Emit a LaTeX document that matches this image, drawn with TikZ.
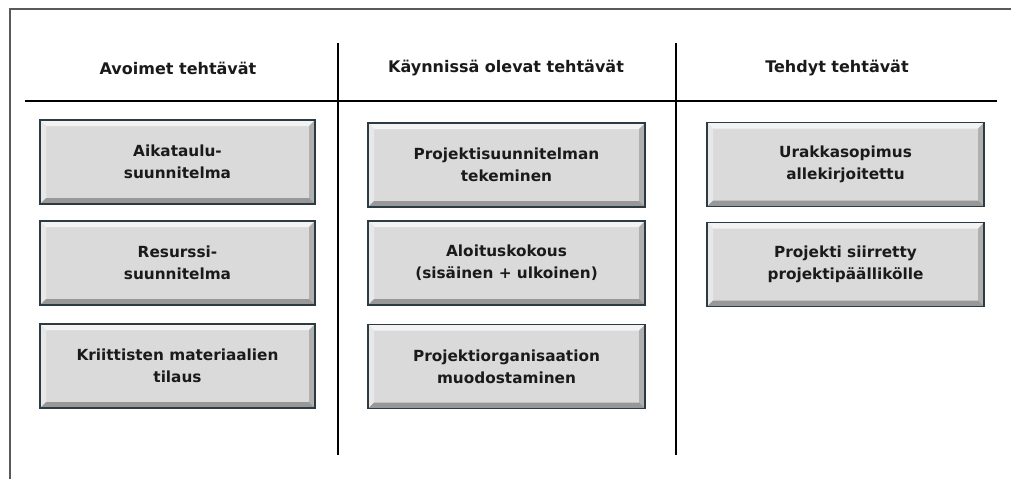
\documentclass[tikz,border=0pt]{standalone}
\usepackage{fontspec}
\setmainfont{DejaVu Sans}
\definecolor{boxgray}{HTML}{DADADA}
\definecolor{bevtop}{HTML}{F3F3F3}
\definecolor{bevleft}{HTML}{E8E8E8}
\definecolor{bevright}{HTML}{B0B0B0}
\definecolor{bevbottom}{HTML}{989898}
\definecolor{edge}{HTML}{2C3A44}
\definecolor{frame}{HTML}{5A5A5A}
\definecolor{ink}{HTML}{1A1A1A}
\tikzset{
  taskbox/.style={
    minimum width=277pt, minimum height=84pt, inner sep=0pt, align=center,
    text=ink, font=\bfseries\fontsize{15.3}{22}\selectfont,
    fill=boxgray, draw=edge, line width=1.3pt,
    path picture={
      \coordinate (nw) at (path picture bounding box.north west);
      \coordinate (ne) at (path picture bounding box.north east);
      \coordinate (sw) at (path picture bounding box.south west);
      \coordinate (se) at (path picture bounding box.south east);
      \fill[bevtop] (nw) -- (ne) -- ([shift={(-6pt,-6pt)}]ne) -- ([shift={(6pt,-6pt)}]nw) -- cycle;
      \fill[bevleft] (nw) -- (sw) -- ([shift={(6pt,6pt)}]sw) -- ([shift={(6pt,-6pt)}]nw) -- cycle;
      \fill[bevright] (ne) -- (se) -- ([shift={(-6pt,6pt)}]se) -- ([shift={(-6pt,-6pt)}]ne) -- cycle;
      \fill[bevbottom] (sw) -- (se) -- ([shift={(-6pt,6pt)}]se) -- ([shift={(6pt,6pt)}]sw) -- cycle;
    }},
  header/.style={text=ink, font=\bfseries\fontsize{16}{18}\selectfont},
  rule/.style={line width=2.6pt, black},
  framerule/.style={line width=2pt, frame}
}
\begin{document}
\begin{tikzpicture}[x=1pt,y=-1pt]
  \useasboundingbox (0,0) rectangle (1011,479);
  % outer frame (top and left edges)
  \coordinate (fbl) at (10,479);
  \coordinate (ftl) at (10,9);
  \coordinate (ftr) at (1011,9);
  \draw[framerule] (fbl) -- (ftl) -- (ftr);

  % column rules
  \coordinate (hl) at (25,101);
  \coordinate (hr) at (997,101);
  \coordinate (v1t) at (338,43);
  \coordinate (v1b) at (338,455);
  \coordinate (v2t) at (676,43);
  \coordinate (v2b) at (676,455);
  \draw[rule] (hl) -- (hr);
  \draw[rule] (v1t) -- (v1b);
  \draw[rule] (v2t) -- (v2b);

  % column headers
  \node[header] (h1) at (178,68) {Avoimet tehtävät};
  \node[header] (h2) at (506,68) {Käynnissä olevat tehtävät};
  \node[header] (h3) at (837,68) {Tehdyt tehtävät};

  % open tasks
  \node[taskbox, minimum width=275pt] (a1) at (177.5,162) {Aikataulu-\\suunnitelma};
  \node[taskbox, minimum width=275pt] (a2) at (177.5,263) {Resurssi-\\suunnitelma};
  \node[taskbox, minimum width=275pt] (a3) at (177.5,366) {Kriittisten materiaalien\\tilaus};

  % tasks in progress
  \node[taskbox] (b1) at (506.5,165) {Projektisuunnitelman\\tekeminen};
  \node[taskbox] (b2) at (506.5,263) {Aloituskokous\\(sisäinen + ulkoinen)};
  \node[taskbox] (b3) at (506.5,366.5) {Projektiorganisaation\\muodostaminen};

  % completed tasks
  \node[taskbox] (c1) at (845.5,164.5) {Urakkasopimus\\allekirjoitettu};
  \node[taskbox] (c2) at (845.5,264.5) {Projekti siirretty\\projektipäällikölle};
\end{tikzpicture}
\end{document}
